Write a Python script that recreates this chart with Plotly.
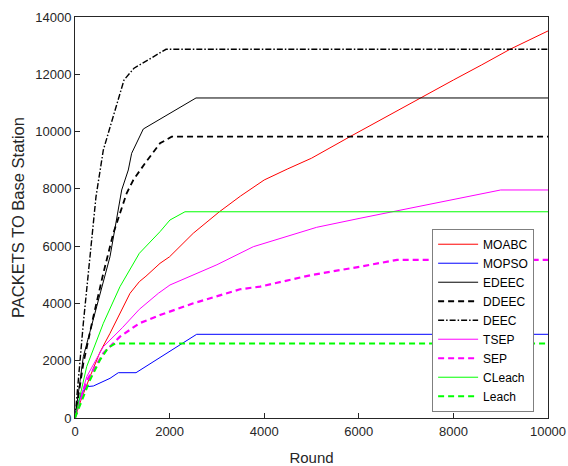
import plotly.graph_objects as go

# Cumulative packets delivered to the base station per protocol
moabc_r = [0, 120, 317, 528, 740, 1000, 1163, 1360, 1500, 1797, 2000, 2500, 3052, 3500, 4000, 4500, 5000, 5814, 6500, 7294, 8000, 8600, 9197, 10000]
moabc_v = [0, 600, 1442, 2300, 2957, 3800, 4353, 4760, 4950, 5400, 5630, 6450, 7200, 7750, 8310, 8700, 9070, 9823, 10450, 11173, 11800, 12330, 12873, 13513]

mopso_r = [0, 35, 141, 247, 388, 599, 740, 916, 1290, 2572, 10000]
mopso_v = [0, 395, 862, 1094, 1117, 1268, 1385, 1582, 1582, 2922, 2922]

edeec_r = [0, 176, 458, 740, 987, 1127, 1198, 1444, 2558, 10000]
edeec_v = [0, 2141, 3886, 5632, 7961, 8659, 9242, 10090, 11173, 11173]

ddeec_r = [0, 176, 388, 599, 810, 1092, 1233, 1480, 1797, 2044, 10000]
ddeec_v = [0, 1910, 3537, 5052, 6449, 7846, 8310, 8893, 9591, 9823, 9823]

deec_r = [0, 176, 317, 444, 599, 846, 1036, 1247, 1924, 10000]
deec_v = [0, 3306, 5632, 7727, 9357, 10754, 11800, 12210, 12873, 12873]

tsep_r = [0, 247, 599, 1000, 1360, 1762, 2008, 3000, 3770, 5109, 6025, 9000, 10000]
tsep_v = [0, 1442, 2490, 3150, 3795, 4353, 4644, 5350, 5981, 6658, 6973, 7961, 7961]

sep_r = [0, 247, 599, 951, 1360, 1797, 2502, 3488, 3911, 5000, 6025, 6808, 10000]
sep_v = [0, 1300, 2259, 2839, 3306, 3596, 4005, 4494, 4586, 4993, 5283, 5520, 5520]

cleach_r = [0, 247, 599, 951, 1360, 1797, 2008, 2325, 10000]
cleach_v = [0, 1792, 3306, 4585, 5750, 6505, 6913, 7200, 7200]

leach_r = [0, 317, 528, 700, 850, 10000]
leach_v = [0, 1327, 2025, 2450, 2600, 2600]

x_ticks = [0, 2000, 4000, 6000, 8000, 10000]
y_ticks = [0, 2000, 4000, 6000, 8000, 10000, 12000, 14000]

series = [
    ("MOABC", moabc_r, moabc_v, "#ff0000", 1.0, "solid"),
    ("MOPSO", mopso_r, mopso_v, "#0000ff", 1.0, "solid"),
    ("EDEEC", edeec_r, edeec_v, "#000000", 1.0, "solid"),
    ("DDEEC", ddeec_r, ddeec_v, "#000000", 1.8, "6px,4px"),
    ("DEEC", deec_r, deec_v, "#000000", 1.4, "6px,2px,1.5px,2px"),
    ("TSEP", tsep_r, tsep_v, "#ff00ff", 1.0, "solid"),
    ("SEP", sep_r, sep_v, "#ff00ff", 2.2, "6px,4px"),
    ("CLeach", cleach_r, cleach_v, "#00ff00", 1.0, "solid"),
    ("Leach", leach_r, leach_v, "#00ff00", 2.0, "6px,4px"),
]

fig = go.Figure()
for name, r, v, color, width, dash in series:
    fig.add_trace(go.Scatter(x=r, y=v, mode="lines", name=name,
                             line=dict(color=color, width=width, dash=dash)))

axis_common = dict(showgrid=False, zeroline=False, showline=True, mirror=True,
                   automargin=False,
                   linecolor="#262626", linewidth=1, ticks="inside", ticklen=5,
                   tickcolor="#262626", tickfont=dict(size=13, color="#262626"))

fig.update_layout(
    width=568, height=466,
    margin=dict(l=75, r=20, t=17, b=48),
    paper_bgcolor="white", plot_bgcolor="white",
    font=dict(family="Liberation Sans, Arial, sans-serif", color="#262626"),
    xaxis=dict(range=[0, 10000], tickvals=x_ticks, ticktext=[str(t) for t in x_ticks],
               ticklabelstandoff=1,
               title=dict(text="Round", font=dict(size=15), standoff=14), **axis_common),
    yaxis=dict(range=[0, 14000], tickvals=y_ticks, ticktext=[str(t) for t in y_ticks],
               title=dict(text="PACKETS TO Base Station", font=dict(size=16.5), standoff=6),
               **axis_common),
    legend=dict(x=0.755, y=0.472, xanchor="left", yanchor="top",
                bgcolor="white", bordercolor="#7f7f7f", borderwidth=1,
                font=dict(size=12, color="#000000"), tracegroupgap=0,
                itemwidth=40),
    showlegend=True,
)

fig.write_html("out.html")
